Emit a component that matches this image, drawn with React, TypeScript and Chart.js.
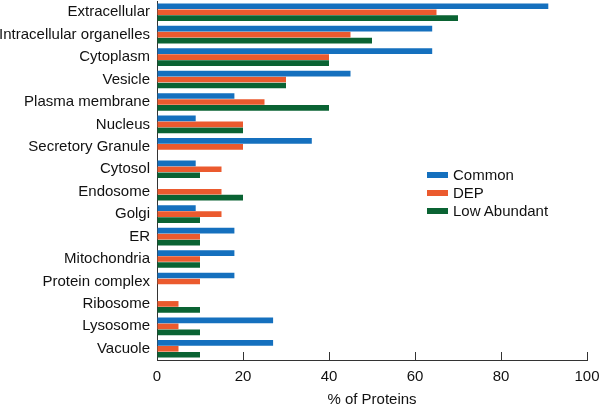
import React, { useRef, useEffect } from 'react';
import { Chart, registerables } from 'chart.js';

Chart.register(...registerables);

const categories = [
  'Extracellular',
  'Intracellular organelles',
  'Cytoplasm',
  'Vesicle',
  'Plasma membrane',
  'Nucleus',
  'Secretory Granule',
  'Cytosol',
  'Endosome',
  'Golgi',
  'ER',
  'Mitochondria',
  'Protein complex',
  'Ribosome',
  'Lysosome',
  'Vacuole',
];

const seriesNames = ['Common', 'DEP', 'Low Abundant'];
const seriesColors = ['#1570be', '#eb5a2e', '#0a6333'];

const common = [91, 64, 64, 45, 18, 9, 36, 9, 0, 9, 18, 18, 18, 0, 27, 27];
const dep = [65, 45, 40, 30, 25, 20, 20, 15, 15, 15, 10, 10, 10, 5, 5, 5];
const lowAbundant = [70, 50, 40, 30, 40, 20, 0, 10, 20, 10, 10, 10, 0, 10, 10, 10];

const xTicks = [0, 20, 40, 60, 80, 100];

const FONT = '"Liberation Sans", Arial, Helvetica, sans-serif';
const AXIS_COLOR = '#333333';

const App = () => {
  const canvasRef = useRef<HTMLCanvasElement>(null);
  const chartRef = useRef<Chart | null>(null);

  useEffect(() => {
    document.body.style.margin = '0';
    if (!canvasRef.current) return;

    const values = [common, dep, lowAbundant];

    chartRef.current = new Chart(canvasRef.current, {
      type: 'bar',
      data: {
        labels: categories,
        datasets: seriesNames.map((name, i) => ({
          label: name,
          data: values[i],
          backgroundColor: seriesColors[i],
          borderWidth: 0,
          barPercentage: 0.95,
          categoryPercentage: 0.8,
        })),
      },
      options: {
        indexAxis: 'y',
        animation: false,
        responsive: true,
        maintainAspectRatio: false,
        layout: { padding: { top: 1, right: 13, left: 0, bottom: 0 } },
        plugins: {
          legend: { display: false },
          tooltip: { enabled: false },
        },
        scales: {
          x: {
            type: 'linear',
            min: 0,
            max: 100,
            afterFit: (scale: any) => {
              scale.height = 44;
              scale.paddingLeft = 0;
              scale.paddingRight = 0;
            },
            afterBuildTicks: (scale: any) => {
              scale.ticks = xTicks.map((v) => ({ value: v }));
            },
            border: { display: true, color: AXIS_COLOR, width: 1 },
            grid: {
              drawOnChartArea: false,
              drawTicks: true,
              tickLength: -8,
              tickColor: AXIS_COLOR,
              tickWidth: 1,
            },
            ticks: {
              padding: 16,
              color: '#111111',
              font: { family: FONT, size: 15 },
            },
            title: {
              display: true,
              text: '% of Proteins',
              color: '#111111',
              font: { family: FONT, size: 15 },
              padding: { top: 0, bottom: -5 },
            },
          },
          y: {
            type: 'category',
            afterFit: (scale: any) => {
              scale.width = 157;
              scale.paddingTop = 0;
              scale.paddingBottom = 0;
            },
            border: { display: true, color: AXIS_COLOR, width: 1 },
            grid: { drawOnChartArea: false, drawTicks: false },
            ticks: {
              padding: 7,
              autoSkip: false,
              color: '#111111',
              font: { family: FONT, size: 15 },
            },
          },
        },
      },
    });

    return () => {
      if (chartRef.current) {
        chartRef.current.destroy();
        chartRef.current = null;
      }
    };
  }, []);

  return (
    <div style={{ position: 'relative', width: 600, height: 404 }}>
      <canvas ref={canvasRef} />
      <div
        style={{
          position: 'absolute',
          left: 427,
          top: 166,
          fontFamily: FONT,
          fontSize: 15,
          color: '#111111',
          lineHeight: '18px',
        }}
      >
        {seriesNames.map((name, i) => (
          <div key={name} style={{ display: 'flex', alignItems: 'center', height: 18 }}>
            <span
              style={{
                display: 'inline-block',
                width: 21,
                height: 6,
                background: seriesColors[i],
                marginRight: 5,
              }}
            />
            <span>{name}</span>
          </div>
        ))}
      </div>
    </div>
  );
};

export default App;
